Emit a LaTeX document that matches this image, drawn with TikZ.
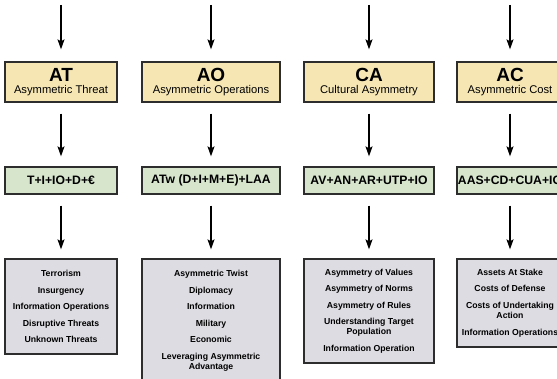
\documentclass[tikz,border=0pt]{standalone}
\usepackage{fontspec}
\setmainfont{Liberation Sans}
\usetikzlibrary{arrows.meta}
\definecolor{ybox}{RGB}{245,230,180}
\definecolor{gbox}{RGB}{214,229,204}
\definecolor{grbox}{RGB}{220,220,226}
\definecolor{edge}{RGB}{45,45,45}
\begin{document}
\begin{tikzpicture}[x=1pt,y=-1pt,
  boxbase/.style={draw=edge,line width=1.3pt,inner sep=0pt,anchor=center},
  yellowbox/.style={boxbase,fill=ybox,minimum height=40pt},
  greenbox/.style={boxbase,fill=gbox,minimum height=27pt,font=\fontsize{12.2}{13}\selectfont\bfseries},
  graybox/.style={boxbase,fill=grbox,align=center,font=\fontsize{8.7}{10.3}\selectfont\bfseries},
  headtxt/.style={anchor=base,inner sep=0pt,font=\fontsize{19}{19}\selectfont\bfseries},
  subtxt/.style={anchor=base,inner sep=0pt,font=\fontsize{11.2}{12}\selectfont},
  flow/.style={draw=black,line width=1.2pt,-{Stealth[width=7pt,length=10pt,inset=2pt]}}
]
\useasboundingbox (0,0) rectangle (557,379);
\clip (0,0) rectangle (557,379);

% AT column
\coordinate (s1) at (61,5);
\node[yellowbox,minimum width=112pt] (y1) at (61,82) {};
\node[headtxt] (h1) at (61,82) {AT};
\node[subtxt] (t1) at (61,94) {Asymmetric Threat};
\node[greenbox,minimum width=112pt] (g1) at (61,180.5) {T+I+IO+D+€};
\node[graybox,minimum width=112pt,minimum height=95pt] (r1) at (61,306.5)
  {Terrorism\\[6.2pt]Insurgency\\[6.2pt]Information Operations\\[6.2pt]Disruptive Threats\\[6.2pt]Unknown Threats};

% AO column
\coordinate (s2) at (211,5);
\node[yellowbox,minimum width=138pt] (y2) at (211,82) {};
\node[headtxt] (h2) at (211,82) {AO};
\node[subtxt] (t2) at (211,94) {Asymmetric Operations};
\node[greenbox,minimum width=138pt] (g2) at (211,180.5) {ATw (D+I+M+E)+LAA};
\node[graybox,minimum width=138pt,minimum height=124pt] (r2) at (211,321)
  {Asymmetric Twist\\[6.2pt]Diplomacy\\[6.2pt]Information\\[6.2pt]Military\\[6.2pt]Economic\\[6.2pt]Leveraging Asymmetric\\Advantage};

% CA column
\coordinate (s3) at (369,5);
\node[yellowbox,minimum width=130pt] (y3) at (369,82) {};
\node[headtxt] (h3) at (369,82) {CA};
\node[subtxt] (t3) at (369,94) {Cultural Asymmetry};
\node[greenbox,minimum width=130pt] (g3) at (369,180.5) {AV+AN+AR+UTP+IO};
\node[graybox,minimum width=130pt,minimum height=104pt] (r3) at (369,311)
  {Asymmetry of Values\\[6.2pt]Asymmetry of Norms\\[6.2pt]Asymmetry of Rules\\[6.2pt]Understanding Target\\Population\\[6.2pt]Information Operation};

% AC column
\coordinate (s4) at (510,5);
\node[yellowbox,minimum width=106pt] (y4) at (510,82) {};
\node[headtxt] (h4) at (510,82) {AC};
\node[subtxt] (t4) at (510,94) {Asymmetric Cost};
\node[greenbox,minimum width=106pt] (g4) at (510,180.5) {AAS+CD+CUA+IO};
\node[graybox,minimum width=106pt,minimum height=88pt] (r4) at (510,303)
  {Assets At Stake\\[6.2pt]Costs of Defense\\[6.2pt]Costs of Undertaking\\Action\\[6.2pt]Information Operations};

% connectors
\foreach \i in {1,2,3,4}{
  \draw[flow,shorten >=12pt] (s\i) -- (s\i |- y\i.north);
  \draw[flow,shorten <=11pt,shorten >=10pt] (y\i.south) -- (g\i.north);
  \draw[flow,shorten <=11pt,shorten >=9pt] (g\i.south) -- (r\i.north);
}
\end{tikzpicture}
\end{document}
